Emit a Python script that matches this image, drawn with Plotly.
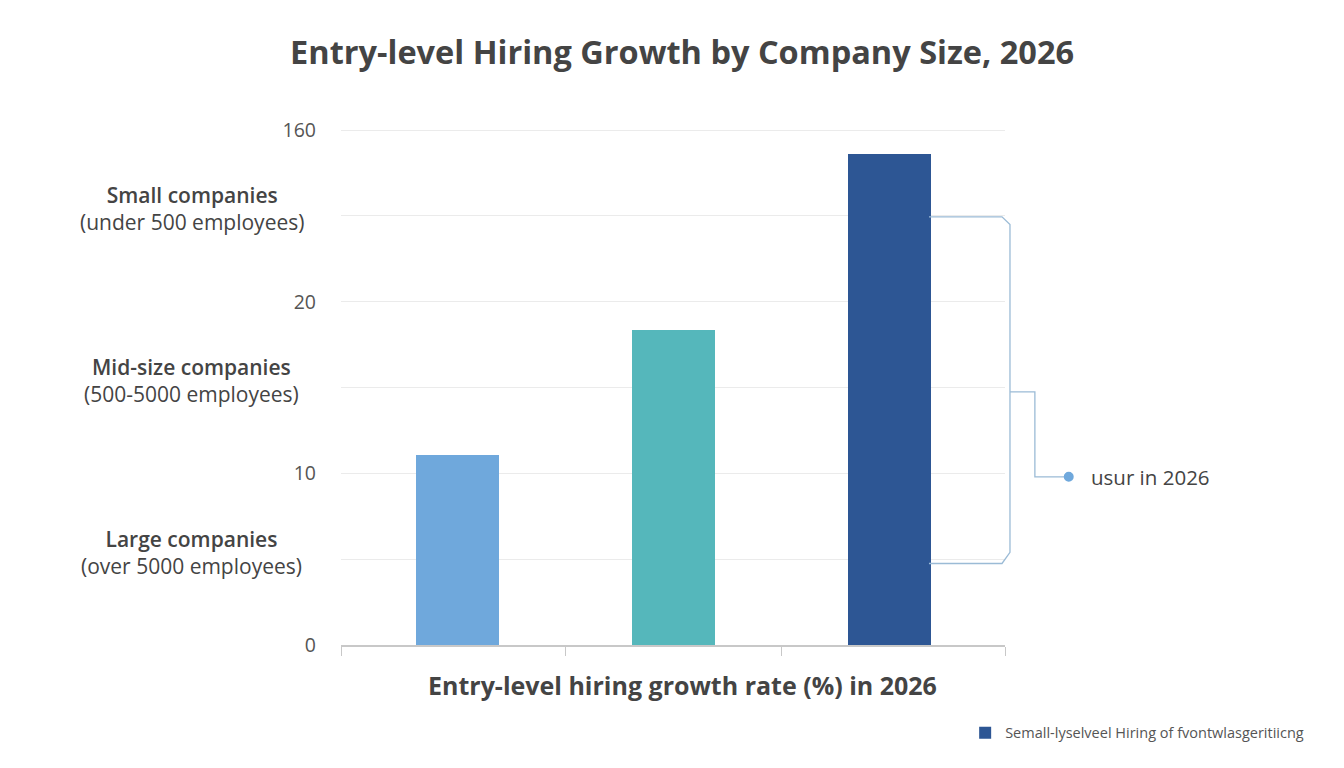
import plotly.graph_objects as go

# ---- data ----
categories = ["Large companies", "Mid-size companies", "Small companies"]
growth_values = [11.05, 18.35, 28.6]
bar_colors = ["#6fa8dc", "#55b7bb", "#2d5694"]
legend_name = "Semall-lyselveel Hiring of fvontwlasgeritiicng"

y_tick_vals = [0, 5, 10, 15, 20, 25, 30]
y_tick_text = ["0", "", "10", "", "20", "", "160"]

side_labels = [
    ("Small companies", "(under 500 employees)", 25),
    ("Mid-size companies", "(500-5000 employees)", 15),
    ("Large companies", "(over 5000 employees)", 5),
]

title_text = "Entry-level Hiring Growth by Company Size, 2026"
x_title_text = "Entry-level hiring growth rate (%) in 2026"
callout_text = "usur in 2026"

FONT = "Open Sans"
x_pos = list(range(len(categories)))

fig = go.Figure()
for i, (cat, val, col) in enumerate(zip(categories, growth_values, bar_colors)):
    fig.add_trace(go.Bar(
        x=[x_pos[i]], y=[val], name=legend_name if i == 2 else cat,
        marker=dict(color=col, line=dict(width=0)),
        width=0.384, showlegend=(i == 2),
        hovertext=[cat],
    ))

# left category labels
for bold, sub, yv in side_labels:
    fig.add_annotation(
        x=-0.225, xref="paper", y=yv, yref="y", yshift=7,
        text=f"<span style='font-weight:600'>{bold}</span><br>{sub}",
        showarrow=False, xanchor="center", yanchor="middle", align="center",
        font=dict(family=FONT, size=21, color="#444"),
    )

# bracket callout
line_col = "#9bbbd6"
fig.add_shape(
    type="path", xref="paper", yref="y",
    path=("M 0.8855 24.95 L 0.9955 24.95 L 1.0075 24.5 L 1.0075 5.4 "
          "L 0.9955 4.75 L 0.8855 4.75"),
    line=dict(color=line_col, width=1.3),
)
fig.add_shape(
    type="path", xref="paper", yref="y",
    path="M 1.0075 14.75 L 1.045 14.75 L 1.045 9.8 L 1.096 9.8",
    line=dict(color=line_col, width=1.3),
)
fig.add_shape(
    type="circle", xref="paper", yref="y",
    x0=1.0885, x1=1.1035, y0=9.8 - 0.29, y1=9.8 + 0.29,
    fillcolor="#6fa8dc", line=dict(width=0),
)
fig.add_annotation(
    x=1.127, xref="paper", y=9.8, yref="y",
    text=callout_text, showarrow=False, xanchor="left", yanchor="middle",
    font=dict(family=FONT, size=20.5, color="#444"),
)

# x-axis title as annotation
fig.add_annotation(
    x=0.515, xref="paper", y=-0.077, yref="paper",
    text=f"<b>{x_title_text}</b>", showarrow=False,
    xanchor="center", yanchor="middle",
    font=dict(family=FONT, size=25, color="#444"),
)

fig.update_layout(
    width=1344, height=768,
    margin=dict(l=341, r=339, t=125, b=123),
    paper_bgcolor="white", plot_bgcolor="white",
    title=dict(text=f"<b>{title_text}</b>", x=0.5075, xanchor="center",
               y=0.931, yanchor="middle",
               font=dict(family=FONT, size=32.5, color="#444")),
    font=dict(family=FONT, color="#555"),
    bargap=0,
    showlegend=True,
    legend=dict(x=0.94, y=-0.169, xanchor="left", yanchor="middle",
                xref="paper", yref="paper",
                font=dict(family=FONT, size=14.5, color="#555"),
                bgcolor="rgba(0,0,0,0)", itemwidth=30),
    xaxis=dict(range=[-0.539, 2.532], tickmode="array",
               tickvals=[-0.539, 0.5, 1.5, 2.532], ticktext=["", "", "", ""],
               ticks="outside", ticklen=9, tickcolor="#c8c8c8", tickwidth=1,
               showgrid=False, showline=True, linecolor="#c8c8c8", linewidth=1.5,
               zeroline=False, fixedrange=True),
    yaxis=dict(range=[0, 30.3], tickmode="array", tickvals=y_tick_vals,
               ticktext=y_tick_text, showgrid=True, gridcolor="#ebebeb",
               gridwidth=1, zeroline=False, showline=False,
               ticklabelstandoff=24,
               tickfont=dict(family=FONT, size=19.5, color="#555")),
)

fig.write_html("out.html")
